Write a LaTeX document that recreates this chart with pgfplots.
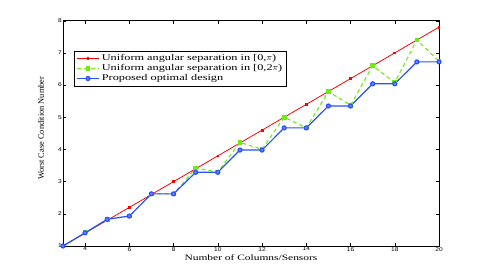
\documentclass[border=0pt]{standalone}
\usepackage{fontspec}
\setmainfont{Liberation Serif}
\newfontfamily\widefont[FakeStretch=1.4]{Liberation Serif}
\newfontfamily\ticksans[FakeStretch=1.2]{Liberation Sans}
\usepackage{pgfplots}
\pgfplotsset{compat=1.18}
\definecolor{mred}{RGB}{255,0,0}
\definecolor{mgreen}{RGB}{110,235,20}
\definecolor{mblue}{RGB}{40,80,255}
\begin{document}
\begin{tikzpicture}
\useasboundingbox (-63bp,-31bp) rectangle (422bp,246bp);
\begin{axis}[
  at={(0,0)}, anchor=south west,
  width=376bp, height=225.3bp, scale only axis,
  xmin=3, xmax=20, ymin=1, ymax=8,
  xtick={4,6,...,20}, ytick={1,2,...,8},
  tick align=inside,
  major tick length=3bp,
  tick style={black, line width=0.4pt},
  axis line style={black, line width=0.6pt},
  /pgf/number format/assume math mode=true,
  ticklabel style={font=\ticksans\fontsize{5.5}{5.5}\selectfont},
  xticklabel style={inner sep=1pt},
  yticklabel style={inner sep=1pt},
  xlabel={Number of Columns/Sensors},
  ylabel={Worst Case Condition Number},
  xlabel style={font=\widefont\fontsize{8.2}{8.2}\selectfont, at={(axis description cs:0.5,0)}, anchor=center, yshift=-12bp},
  ylabel style={font=\fontsize{8.4}{8.4}\selectfont, at={(axis description cs:0,0.5)}, anchor=south, yshift=15.5bp, xshift=5bp},
  legend style={at={(rel axis cs:0.03,0.867)}, anchor=north west,
    font=\widefont\fontsize{8.8}{8.8}\selectfont, draw=black, line width=0.5pt,
    inner sep=1.5pt, row sep=-1.5pt, cells={anchor=west}},
  legend cell align=left,
  legend image code/.code={\draw[mark repeat=2,mark phase=2] plot coordinates {(0cm,0cm) (0.4cm,0cm) (0.8cm,0cm)};},
]
\addplot[mred, line width=0.8pt, mark=square*, mark size=0.9pt] coordinates {
(3,1) (4,1.4) (5,1.8) (6,2.2) (7,2.6) (8,3.0) (9,3.4) (10,3.8) (11,4.2) (12,4.6)
(13,5.0) (14,5.4) (15,5.8) (16,6.2) (17,6.6) (18,7.0) (19,7.4) (20,7.8)};
\addlegendentry{Uniform angular separation in [0,$\pi$)}
\addplot[mgreen, line width=1.1pt, dashed, dash pattern=on 4pt off 3pt, mark=square*, mark size=1.8pt, mark options={solid}] coordinates {
(3,1) (4,1.41) (5,1.83) (6,1.93) (7,2.62) (8,2.62) (9,3.42) (10,3.30) (11,4.22) (12,4.00)
(13,5.00) (14,4.67) (15,5.80) (16,5.37) (17,6.60) (18,6.08) (19,7.40) (20,6.74)};
\addlegendentry{Uniform angular separation in [0,2$\pi$)}
\addplot[mblue, line width=1.2pt, mark=*, mark size=2pt, mark options={fill=mblue!70, draw=mblue}] coordinates {
(3,1) (4,1.41) (5,1.83) (6,1.93) (7,2.62) (8,2.62) (9,3.29) (10,3.29) (11,3.98) (12,3.98)
(13,4.67) (14,4.67) (15,5.35) (16,5.35) (17,6.04) (18,6.04) (19,6.72) (20,6.72)};
\addlegendentry{Proposed optimal design}
\end{axis}
\end{tikzpicture}
\end{document}
